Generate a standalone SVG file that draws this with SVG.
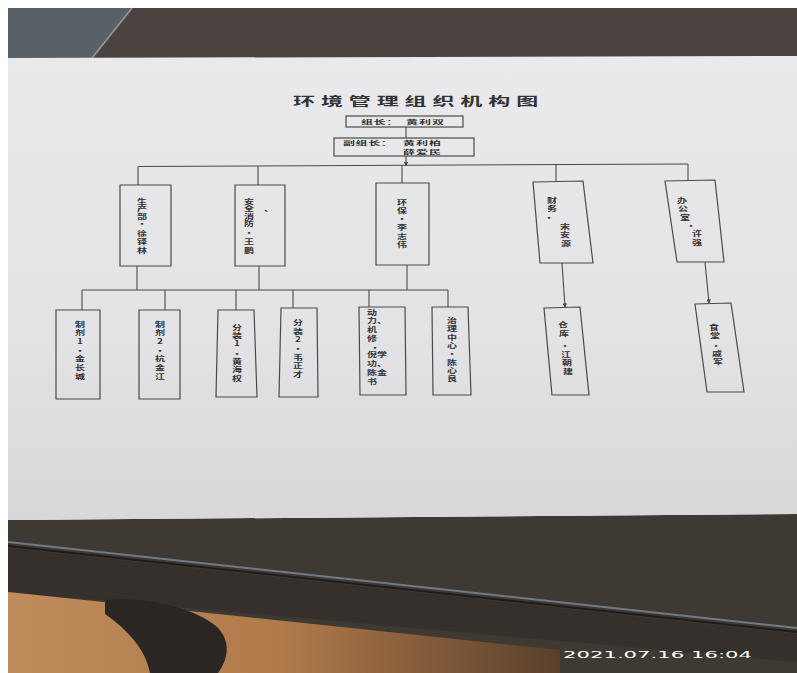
<svg xmlns="http://www.w3.org/2000/svg" width="797" height="673" viewBox="0 0 797 673">
<defs>
<linearGradient id="paper" x1="0" y1="0" x2="0" y2="1">
<stop offset="0" stop-color="#eaeaec"/>
<stop offset="0.6" stop-color="#e3e3e6"/>
<stop offset="1" stop-color="#d8d8db"/>
</linearGradient>
<linearGradient id="floor" x1="0" y1="0" x2="1" y2="0">
<stop offset="0" stop-color="#c08c5c"/>
<stop offset="0.5" stop-color="#b07a4a"/>
<stop offset="1" stop-color="#5a3f2c"/>
</linearGradient>
<marker id="arr" viewBox="0 0 6 6" refX="5" refY="3" markerWidth="4" markerHeight="4" orient="auto">
<path d="M0 0 L6 3 L0 6 Z" fill="#4a4a4a"/>
</marker>
<style>
.box{fill:none;stroke:#4a4a4a;stroke-width:1.2}
.con{fill:none;stroke:#4a4a4a;stroke-width:1.1}
.t{font-family:"Noto Sans CJK SC","Noto Sans CJK JP",sans-serif;fill:#333333;font-weight:bold}
.v{font-size:10px;text-anchor:middle}
.vs{font-size:10px;text-anchor:start}
.h{font-size:10px}
</style>
</defs>
<rect x="0" y="0" width="797" height="673" fill="#ffffff"/>
<polygon points="8,8 797,8 797,58 8,58" fill="#4a4340"/>
<polygon points="8,8 132,8 92,58 8,58" fill="#596066"/>
<line x1="132" y1="8" x2="92" y2="58" stroke="#8d9296" stroke-width="2"/>
<polygon points="8,520 797,514 797,673 8,673" fill="#3e3933"/>
<polygon points="8,548 797,634 797,662 8,592" fill="#35302b"/>
<line x1="8" y1="542" x2="797" y2="628" stroke="#6f7a86" stroke-width="2"/>
<line x1="8" y1="546" x2="797" y2="632" stroke="#1f1c1a" stroke-width="2"/>
<polygon points="8,592 560,650 560,673 8,673" fill="url(#floor)"/>
<path d="M105 600 C140 596 192 606 216 626 C232 641 228 660 218 673 L150 673 C146 650 128 630 105 614 Z" fill="#2b2523"/>
<polygon points="8,58 797,56 797,514 8,520" fill="url(#paper)"/>
<text x="563" y="658" style="font-family:'DejaVu Sans',sans-serif;font-size:9px;fill:#ffffff" textLength="189" lengthAdjust="spacingAndGlyphs">2021.07.16 16:04</text>

<text class="t" x="0" y="0" font-size="22" letter-spacing="5.9" transform="translate(293,105.6) scale(1,0.55)" fill="#3a3a3a">环境管理组织机构图</text>

<g id="connectors">
<path class="con" d="M406 127 V138"/>
<path class="con" d="M406 156 V165.5" marker-end="url(#arr)"/>
<path class="con" d="M138 166.5 L688 164"/>
<path class="con" d="M138 166.5 V185"/>
<path class="con" d="M258 166 V185"/>
<path class="con" d="M402 165.3 V183"/>
<path class="con" d="M556 164.6 V182"/>
<path class="con" d="M688 164 V181"/>
<path class="con" d="M137 266 V290"/>
<path class="con" d="M259 266 V290"/>
<path class="con" d="M407 265 V290"/>
<path class="con" d="M82 290 H448"/>
<path class="con" d="M82 290 V310"/>
<path class="con" d="M165 290 V310"/>
<path class="con" d="M236 290 V310"/>
<path class="con" d="M293 290 V308"/>
<path class="con" d="M369 290 V307"/>
<path class="con" d="M448 290 V307"/>
<path class="con" d="M562 263 L565 307" marker-end="url(#arr)"/>
<path class="con" d="M705 262 L709 303" marker-end="url(#arr)"/>
</g>

<g id="n-leader">
<rect class="box" x="346" y="116" width="117" height="11"/>
<text class="t h" x="0" y="0" letter-spacing="0.5" transform="translate(361,124.3) scale(1.2,0.55)">组长：</text>
<text class="t h" x="0" y="0" letter-spacing="0.8" transform="translate(406,124.3) scale(1.2,0.55)">黄利双</text>
</g>

<g id="n-deputy">
<rect class="box" x="334" y="138" width="140" height="18"/>
<text class="t h" x="0" y="0" letter-spacing="0.5" transform="translate(343,145.3) scale(1.2,0.55)">副组长：</text>
<text class="t h" x="0" y="0" letter-spacing="0.8" transform="translate(403,145.3) scale(1.2,0.55)">黄利柏</text>
<text class="t h" x="0" y="0" letter-spacing="0.8" transform="translate(403,153.5) scale(1.2,0.55)">薛爱民</text>
</g>

<g id="n-production">
<polygon class="box" points="120,185 171,185 171,266 120,266"/>
<text class="t v" transform="scale(1,0.7)"><tspan x="142" y="291">生</tspan><tspan x="142" y="301.7">产</tspan><tspan x="142" y="312.4">部</tspan><tspan x="142" y="323.1">·</tspan><tspan x="142" y="336.7">徐</tspan><tspan x="142" y="348.9">铎</tspan><tspan x="142" y="361">林</tspan></text>
</g>

<g id="n-safety">
<polygon class="box" points="235,185 285,185 285,266 235,266"/>
<text class="t v" transform="scale(1,0.7)"><tspan x="249" y="291">安</tspan><tspan x="249" y="301.7">全</tspan><tspan x="249" y="312.4">消</tspan><tspan x="249" y="322.4">防</tspan><tspan x="249" y="335.3">·</tspan><tspan x="249" y="348.1">王</tspan><tspan x="249" y="361">鹏</tspan></text>
<text class="t vs" x="264" y="302" transform="scale(1,0.7)">、</text>
</g>

<g id="n-env">
<polygon class="box" points="376,183 429,183 429,265 376,265"/>
<text class="t v" transform="scale(1,0.7)"><tspan x="402" y="292.4">环</tspan><tspan x="402" y="303.9">保</tspan><tspan x="402" y="315.3">·</tspan><tspan x="402" y="328.1">李</tspan><tspan x="402" y="341">志</tspan><tspan x="402" y="352.4">伟</tspan></text>
</g>

<g id="n-finance">
<polygon class="box" points="533,182 583,181 593,263 540,263"/>
<text class="t v" transform="scale(1,0.7)"><tspan x="552" y="289.6">财</tspan><tspan x="552" y="301">务</tspan><tspan x="549" y="313.9">·</tspan><tspan x="565" y="326.7">宋</tspan><tspan x="565" y="338.1">安</tspan><tspan x="566" y="351">源</tspan></text>
</g>

<g id="n-office">
<polygon class="box" points="665,181 715,180 724,262 677,262"/>
<text class="t v" transform="scale(1,0.7)"><tspan x="682" y="289.6">办</tspan><tspan x="683" y="301">公</tspan><tspan x="685" y="313.9">室</tspan><tspan x="691" y="325.3">·</tspan><tspan x="697" y="336.7">许</tspan><tspan x="697" y="349.6">强</tspan></text>
</g>

<g id="n-prep1">
<polygon class="box" points="56,310 100,310 100,399 56,399"/>
<text class="t v" transform="scale(1,0.7)"><tspan x="80" y="466.7">制</tspan><tspan x="80" y="478.1">剂</tspan><tspan x="80" y="491">1</tspan><tspan x="80" y="503.9">·</tspan><tspan x="80" y="515.3">金</tspan><tspan x="80" y="528.1">长</tspan><tspan x="80" y="541">城</tspan></text>
</g>

<g id="n-prep2">
<polygon class="box" points="139,310 180,310 180,399 139,399"/>
<text class="t v" transform="scale(1,0.7)"><tspan x="160" y="466.7">制</tspan><tspan x="160" y="478.1">剂</tspan><tspan x="160" y="491">2</tspan><tspan x="160" y="503.9">·</tspan><tspan x="160" y="515.3">杭</tspan><tspan x="160" y="528.1">金</tspan><tspan x="160" y="541">江</tspan></text>
</g>

<g id="n-pack1">
<polygon class="box" points="218,310 254,310 257,397 216,397"/>
<text class="t v" transform="scale(1,0.7)"><tspan x="237" y="471">分</tspan><tspan x="237" y="482.4">装</tspan><tspan x="237" y="493.9">1</tspan><tspan x="237" y="508.1">·</tspan><tspan x="237" y="519.6">黄</tspan><tspan x="237" y="531">海</tspan><tspan x="237" y="543.9">权</tspan></text>
</g>

<g id="n-pack2">
<polygon class="box" points="281,308 317,308 318,397 279,397"/>
<text class="t v" transform="scale(1,0.7)"><tspan x="298" y="463.9">分</tspan><tspan x="298" y="476.7">装</tspan><tspan x="298" y="488.1">2</tspan><tspan x="298" y="501">·</tspan><tspan x="298" y="513.9">韦</tspan><tspan x="298" y="525.3">正</tspan><tspan x="298" y="538.1">才</tspan></text>
</g>

<g id="n-power">
<polygon class="box" points="359,307 405,307 406,395 360,395"/>
<text class="t vs" transform="scale(1,0.7)"><tspan x="367" y="449.6">动</tspan><tspan x="367" y="461">力、</tspan><tspan x="367" y="473.9">机</tspan><tspan x="367" y="486.7">修</tspan><tspan x="370" y="499.6">·</tspan><tspan x="367" y="509.6">倪学</tspan><tspan x="367" y="522.4">功、</tspan><tspan x="367" y="535.3">陈金</tspan><tspan x="367" y="548.1">书</tspan></text>
</g>

<g id="n-treat">
<polygon class="box" points="432,307 468,307 471,395 433,395"/>
<text class="t v" transform="scale(1,0.7)"><tspan x="452" y="461">治</tspan><tspan x="452" y="472.4">理</tspan><tspan x="452" y="485.3">中</tspan><tspan x="452" y="496.7">心</tspan><tspan x="452" y="508.1">·</tspan><tspan x="452" y="521">陈</tspan><tspan x="452" y="532.4">心</tspan><tspan x="452" y="543.9">良</tspan></text>
</g>

<g id="n-store">
<polygon class="box" points="544,308 580,307 589,395 552,395"/>
<text class="t v" transform="scale(1,0.7)"><tspan x="563" y="466.7">仓</tspan><tspan x="564" y="479.6">库</tspan><tspan x="565" y="496.7">·</tspan><tspan x="566" y="509.6">江</tspan><tspan x="567" y="521">朝</tspan><tspan x="568" y="533.9">建</tspan></text>
</g>

<g id="n-canteen">
<polygon class="box" points="695,304 731,303 744,392 707,392"/>
<text class="t v" transform="scale(1,0.7)"><tspan x="714" y="471">食</tspan><tspan x="715" y="482.4">堂</tspan><tspan x="716" y="496.7">·</tspan><tspan x="717" y="508.1">戚</tspan><tspan x="718" y="519.6">军</tspan></text>
</g>
</svg>
